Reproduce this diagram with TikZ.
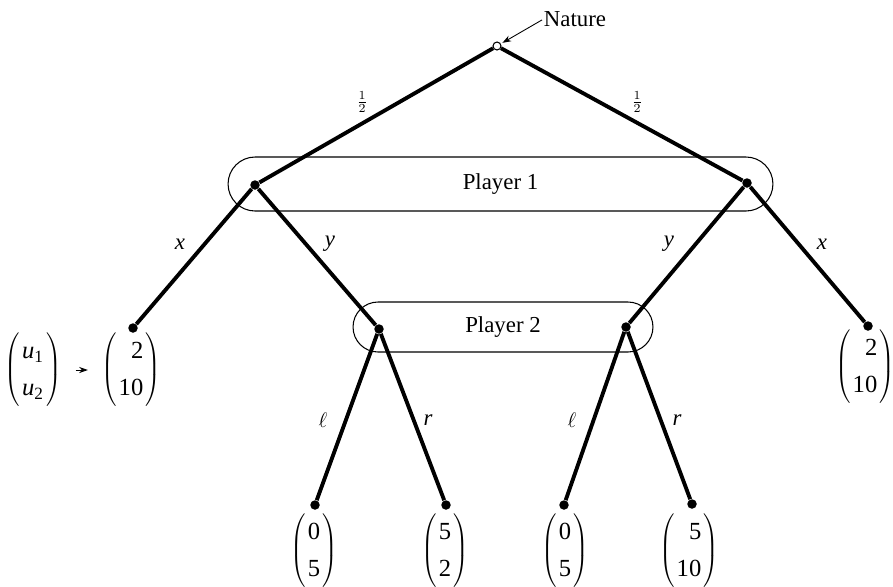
\documentclass[tikz,border=0pt]{standalone}
\usepackage{fontspec}
\setmainfont{Liberation Serif}
\usetikzlibrary{shapes.misc,arrows.meta}
\newcommand\payvec[2][r]{$\left(\mkern1.5mu\begin{tabular}{@{}#1@{}}#2\end{tabular}\mkern1.5mu\right)$}
\begin{document}
\begin{tikzpicture}[x=0.02cm,y=-0.02cm,
  dec/.style={circle,fill=black,inner sep=0pt,minimum size=0.19cm},
  chance/.style={circle,draw=black,line width=0.6pt,fill=white,inner sep=0pt,minimum size=0.16cm},
  branch/.style={line width=2.2pt},
  infoset/.style={draw,rounded rectangle,line width=0.6pt,inner sep=0pt,font=\fontsize{13}{15}\selectfont},
  lab/.style={font=\fontsize{13}{15}\selectfont\itshape,inner sep=0pt},
  half/.style={font=\fontsize{10}{12}\selectfont,inner sep=0pt},
  pay/.style={font=\fontsize{14}{21}\selectfont,inner sep=0pt},
  thin arrow/.style={line width=0.5pt,-{Stealth[length=5pt,width=3.5pt]}}]
\useasboundingbox (0,0) rectangle (893,586);
% information sets
\node[infoset,minimum width=10.9cm,minimum height=1.08cm] (I1) at (500.5,184) {Player 1};
\node[infoset,minimum width=6cm,minimum height=1.0cm] (I2) at (503,327) {Player 2};
% nodes
\node[chance] (N) at (497,46) {};
\node[dec] (a) at (255,185) {};
\node[dec] (b) at (747,183) {};
\node[dec] (t1) at (133,328) {};
\node[dec] (c) at (379,329) {};
\node[dec] (d) at (626,327) {};
\node[dec] (t6) at (868,326) {};
\node[dec] (t2) at (315,505) {};
\node[dec] (t3) at (446,505) {};
\node[dec] (t4) at (564,505) {};
\node[dec] (t5) at (692,504) {};
% branches
\draw[branch] (N) -- (a);
\draw[branch] (N) -- (b);
\draw[branch] (a) -- (t1);
\draw[branch] (a) -- (c);
\draw[branch] (b) -- (d);
\draw[branch] (b) -- (t6);
\draw[branch] (c) -- (t2);
\draw[branch] (c) -- (t3);
\draw[branch] (d) -- (t4);
\draw[branch] (d) -- (t5);
% nature label
\node[font=\fontsize{13}{15}\selectfont,inner sep=0pt] (nat) at (575,19) {Nature};
\draw[thin arrow,shorten <=1pt,shorten >=1pt] (nat.west) -- (N);
% branch labels
\node[half] (h1) at (362,102) {$\frac{1}{2}$};
\node[half] (h2) at (637,102) {$\frac{1}{2}$};
\node[lab] (lx1) at (180,244) {x};
\node[lab] (ly1) at (330,244) {y};
\node[lab] (ly2) at (669,244) {y};
\node[lab] (lx2) at (822,244) {x};
\node[lab] (ll1) at (323,420) {$\ell$};
\node[lab] (lr1) at (428,420) {r};
\node[lab] (ll2) at (572,420) {$\ell$};
\node[lab] (lr2) at (677,420) {r};
% payoffs
\node[pay] (u) at (33,370) {\payvec[l]{\textit{u}\textsubscript{1}\\\textit{u}\textsubscript{2}}};
\node[pay] (p1) at (131,370) {\payvec{2\\10}};
\node[pay] (p6) at (865,367) {\payvec{2\\10}};
\node[pay] (p2) at (314,551) {\payvec{0\\5}};
\node[pay] (p3) at (445,551) {\payvec{5\\2}};
\node[pay] (p4) at (565,551) {\payvec{0\\5}};
\node[pay] (p5) at (689,551) {\payvec{5\\10}};
\draw[thin arrow,shorten <=0.28cm,shorten >=0.26cm] (u) -- (p1);
\end{tikzpicture}
\end{document}
